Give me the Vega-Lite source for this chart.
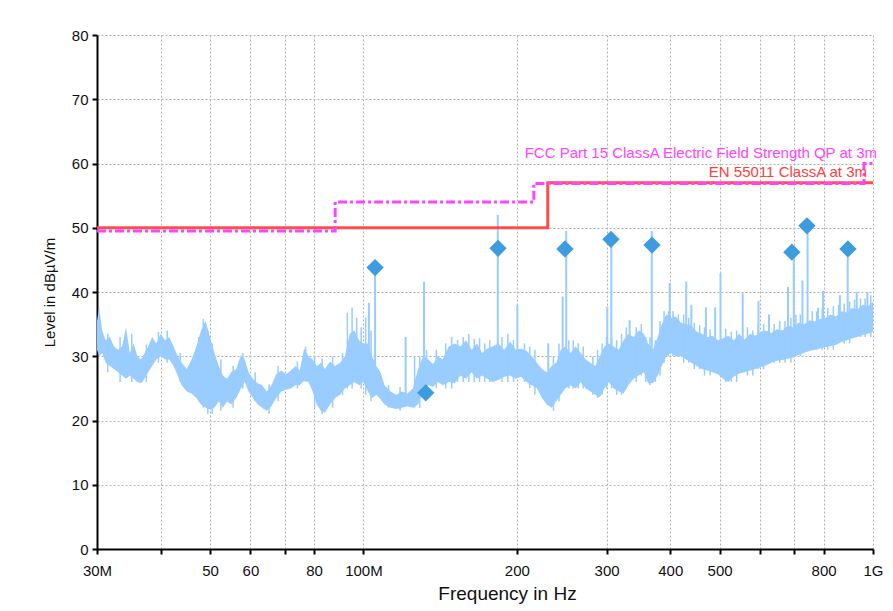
{
  "$schema": "https://vega.github.io/schema/vega-lite/v6.json",
  "width": 776,
  "height": 514,
  "autosize": {"type": "none"},
  "padding": {"left": 97, "top": 35, "right": 20, "bottom": 62},
  "background": "white",
  "config": {
    "view": {"stroke": null},
    "font": "Liberation Sans",
    "axis": {
      "labelFont": "Liberation Sans",
      "labelFontSize": 15,
      "labelColor": "#111",
      "labelFlush": false,
      "titleFont": "Liberation Sans",
      "titleColor": "#111",
      "titleFontWeight": "normal",
      "domainColor": "#000",
      "domainWidth": 2,
      "tickColor": "#000",
      "tickWidth": 2,
      "tickSize": 5,
      "gridColor": "#b0b0b0",
      "gridDash": [2, 2],
      "gridWidth": 1
    }
  },
  "datasets": {
    "trace": [
      {"f": 30, "lo": 31, "hi": 35.5}, {"f": 30.3, "lo": 30, "hi": 37.7}, {"f": 30.7, "lo": 30.5, "hi": 34},
      {"f": 31.2, "lo": 29, "hi": 32.5}, {"f": 31.8, "lo": 28.5, "hi": 33}, {"f": 32.4, "lo": 28, "hi": 31.5},
      {"f": 33, "lo": 27.5, "hi": 31}, {"f": 33.6, "lo": 27, "hi": 31.5}, {"f": 34.2, "lo": 26.5, "hi": 34.5},
      {"f": 34.8, "lo": 27, "hi": 30.5}, {"f": 35.4, "lo": 26.5, "hi": 32}, {"f": 36, "lo": 26, "hi": 30},
      {"f": 36.6, "lo": 25.8, "hi": 29.5}, {"f": 37.2, "lo": 26.5, "hi": 30.5}, {"f": 37.8, "lo": 27.5, "hi": 31.5},
      {"f": 38.5, "lo": 28.5, "hi": 33}, {"f": 39.2, "lo": 29.5, "hi": 32}, {"f": 40, "lo": 30, "hi": 33.5},
      {"f": 40.8, "lo": 29.5, "hi": 32.5}, {"f": 41.6, "lo": 29.5, "hi": 33}, {"f": 42.4, "lo": 28.5, "hi": 31.5},
      {"f": 43.2, "lo": 27, "hi": 30}, {"f": 44, "lo": 25.5, "hi": 29}, {"f": 45, "lo": 24.5, "hi": 28},
      {"f": 46, "lo": 24.2, "hi": 29.5}, {"f": 47, "lo": 23.5, "hi": 31.5}, {"f": 48, "lo": 22.5, "hi": 34},
      {"f": 49, "lo": 22, "hi": 35.5}, {"f": 50, "lo": 21.7, "hi": 33}, {"f": 51, "lo": 22, "hi": 30.5},
      {"f": 52, "lo": 23, "hi": 28.5}, {"f": 53, "lo": 22, "hi": 27}, {"f": 54, "lo": 23, "hi": 26.5},
      {"f": 55, "lo": 22.5, "hi": 27.5}, {"f": 56.3, "lo": 23.5, "hi": 28}, {"f": 57.5, "lo": 25, "hi": 30.2},
      {"f": 58.5, "lo": 26, "hi": 29.5}, {"f": 59.5, "lo": 24.5, "hi": 27.5}, {"f": 60.7, "lo": 23.5, "hi": 26.5},
      {"f": 62, "lo": 22.5, "hi": 25.8}, {"f": 63.3, "lo": 22, "hi": 25.5}, {"f": 64.6, "lo": 21.5, "hi": 24.5},
      {"f": 66, "lo": 22.2, "hi": 25.5}, {"f": 67.4, "lo": 23.5, "hi": 27.2}, {"f": 69, "lo": 24.5, "hi": 27.8},
      {"f": 70.5, "lo": 24.8, "hi": 27.2}, {"f": 72, "lo": 25, "hi": 27.8}, {"f": 73.5, "lo": 25.5, "hi": 28.5},
      {"f": 75, "lo": 25.5, "hi": 27.8}, {"f": 76.5, "lo": 26.2, "hi": 31.2}, {"f": 78, "lo": 26, "hi": 30},
      {"f": 79.5, "lo": 24.5, "hi": 29.5}, {"f": 81, "lo": 22.5, "hi": 28.5}, {"f": 82.5, "lo": 21.5, "hi": 29},
      {"f": 84, "lo": 21.2, "hi": 28}, {"f": 86, "lo": 22.5, "hi": 29.2}, {"f": 88, "lo": 23.5, "hi": 28.5},
      {"f": 90, "lo": 24, "hi": 29}, {"f": 92, "lo": 25, "hi": 30}, {"f": 94, "lo": 25.5, "hi": 33.5},
      {"f": 96, "lo": 26, "hi": 34}, {"f": 98, "lo": 25.5, "hi": 32.5}, {"f": 100, "lo": 26, "hi": 32},
      {"f": 102, "lo": 24.5, "hi": 32}, {"f": 104, "lo": 23.5, "hi": 30}, {"f": 106, "lo": 24, "hi": 28.5},
      {"f": 108, "lo": 23.3, "hi": 27.5}, {"f": 110, "lo": 22.5, "hi": 25.5}, {"f": 113, "lo": 22, "hi": 24.5},
      {"f": 116, "lo": 21.8, "hi": 24}, {"f": 119, "lo": 22, "hi": 24.5}, {"f": 122, "lo": 22.2, "hi": 24.2},
      {"f": 125, "lo": 22, "hi": 25}, {"f": 128, "lo": 22.5, "hi": 28}, {"f": 131, "lo": 24.5, "hi": 30},
      {"f": 134, "lo": 25.5, "hi": 29.5}, {"f": 137, "lo": 25.2, "hi": 28.8}, {"f": 140, "lo": 26, "hi": 30},
      {"f": 143, "lo": 25.5, "hi": 29.5}, {"f": 147, "lo": 26, "hi": 31.5}, {"f": 151, "lo": 25.8, "hi": 32},
      {"f": 155, "lo": 27, "hi": 31.5}, {"f": 159, "lo": 26.5, "hi": 32.5}, {"f": 163, "lo": 27.5, "hi": 31},
      {"f": 167, "lo": 26.5, "hi": 32}, {"f": 171, "lo": 27, "hi": 30.5}, {"f": 175, "lo": 26.5, "hi": 31.2},
      {"f": 179, "lo": 26, "hi": 31.5}, {"f": 184, "lo": 26.3, "hi": 32}, {"f": 189, "lo": 26.8, "hi": 31},
      {"f": 194, "lo": 27, "hi": 32.3}, {"f": 199, "lo": 26.5, "hi": 31}, {"f": 204, "lo": 26.8, "hi": 31.2},
      {"f": 209, "lo": 26, "hi": 30.8}, {"f": 214, "lo": 25.5, "hi": 30}, {"f": 219, "lo": 25, "hi": 29},
      {"f": 224, "lo": 23.5, "hi": 28}, {"f": 229, "lo": 22.5, "hi": 27.5}, {"f": 234, "lo": 22, "hi": 28.5},
      {"f": 239, "lo": 23, "hi": 29}, {"f": 244, "lo": 24, "hi": 31}, {"f": 249, "lo": 25, "hi": 31.5},
      {"f": 255, "lo": 25.5, "hi": 30.5}, {"f": 261, "lo": 25, "hi": 31.5}, {"f": 267, "lo": 26, "hi": 30.5},
      {"f": 273, "lo": 25, "hi": 29.5}, {"f": 279, "lo": 24.5, "hi": 29}, {"f": 285, "lo": 24, "hi": 28.5},
      {"f": 291, "lo": 23.6, "hi": 30}, {"f": 297, "lo": 25, "hi": 31.5}, {"f": 303, "lo": 26, "hi": 32},
      {"f": 310, "lo": 25, "hi": 31.5}, {"f": 317, "lo": 24.5, "hi": 31}, {"f": 324, "lo": 24.2, "hi": 32.5},
      {"f": 331, "lo": 25.5, "hi": 33.5}, {"f": 339, "lo": 26.5, "hi": 33}, {"f": 347, "lo": 27, "hi": 34},
      {"f": 355, "lo": 27.5, "hi": 33.5}, {"f": 362, "lo": 25.8, "hi": 32}, {"f": 370, "lo": 25.8, "hi": 31},
      {"f": 378, "lo": 27, "hi": 33}, {"f": 385, "lo": 28.5, "hi": 35}, {"f": 393, "lo": 30, "hi": 36.5},
      {"f": 401, "lo": 30.5, "hi": 36}, {"f": 410, "lo": 30, "hi": 36.2}, {"f": 420, "lo": 30, "hi": 35.2},
      {"f": 430, "lo": 29.5, "hi": 35}, {"f": 440, "lo": 29, "hi": 34.8}, {"f": 451, "lo": 28.5, "hi": 33.8},
      {"f": 462, "lo": 28, "hi": 33.5}, {"f": 473, "lo": 27.8, "hi": 33}, {"f": 484, "lo": 27.5, "hi": 33.2},
      {"f": 496, "lo": 27.2, "hi": 32.5}, {"f": 508, "lo": 26.5, "hi": 32.8}, {"f": 520, "lo": 26, "hi": 33.2},
      {"f": 533, "lo": 26.8, "hi": 32.5}, {"f": 546, "lo": 27.3, "hi": 33.5}, {"f": 560, "lo": 27.5, "hi": 32.6},
      {"f": 574, "lo": 27.8, "hi": 33.5}, {"f": 588, "lo": 28, "hi": 33.2}, {"f": 602, "lo": 28.3, "hi": 33.8},
      {"f": 617, "lo": 28.6, "hi": 34}, {"f": 632, "lo": 29, "hi": 33.6}, {"f": 648, "lo": 29.3, "hi": 34.2},
      {"f": 664, "lo": 29.4, "hi": 34}, {"f": 680, "lo": 29.6, "hi": 34.8}, {"f": 697, "lo": 29.8, "hi": 34.5},
      {"f": 714, "lo": 30.2, "hi": 35.2}, {"f": 732, "lo": 30.5, "hi": 35}, {"f": 750, "lo": 30.8, "hi": 35.6},
      {"f": 768, "lo": 31, "hi": 35.4}, {"f": 787, "lo": 31.2, "hi": 35.8}, {"f": 806, "lo": 31.4, "hi": 36},
      {"f": 826, "lo": 31.6, "hi": 36.5}, {"f": 846, "lo": 31.8, "hi": 36.2}, {"f": 867, "lo": 32.2, "hi": 37},
      {"f": 888, "lo": 32.5, "hi": 36.8}, {"f": 910, "lo": 32.8, "hi": 37.5}, {"f": 932, "lo": 33, "hi": 37.3},
      {"f": 955, "lo": 33.3, "hi": 38}, {"f": 978, "lo": 33.5, "hi": 37.8}, {"f": 1000, "lo": 33.8, "hi": 38.5}
    ],
    "spikes": [
      {"f": 102.5, "base": 28, "top": 38.3}, {"f": 105.4, "base": 26, "top": 43.8},
      {"f": 121, "base": 23, "top": 33}, {"f": 131.5, "base": 26, "top": 41.6},
      {"f": 183.5, "base": 28, "top": 52}, {"f": 200.5, "base": 28, "top": 38},
      {"f": 230.5, "base": 25, "top": 32}, {"f": 246, "base": 27, "top": 39.3},
      {"f": 250, "base": 27, "top": 49.5}, {"f": 301, "base": 28, "top": 37.7},
      {"f": 306.5, "base": 28, "top": 48.4}, {"f": 333, "base": 28, "top": 35.6},
      {"f": 368, "base": 28, "top": 49.5}, {"f": 399, "base": 32, "top": 41.4},
      {"f": 430, "base": 31, "top": 41.6}, {"f": 440, "base": 30, "top": 38},
      {"f": 470, "base": 30, "top": 37.6}, {"f": 490, "base": 30, "top": 37.6},
      {"f": 502, "base": 29, "top": 42.9}, {"f": 555, "base": 29, "top": 39.8},
      {"f": 596, "base": 30, "top": 38.6}, {"f": 625, "base": 30, "top": 36.5},
      {"f": 681, "base": 31, "top": 40.8}, {"f": 699, "base": 31, "top": 46.3},
      {"f": 727, "base": 32, "top": 41.8}, {"f": 744, "base": 32, "top": 50.4},
      {"f": 780, "base": 32, "top": 37.5}, {"f": 798, "base": 33, "top": 40.2},
      {"f": 861, "base": 33, "top": 39.5}, {"f": 892, "base": 34, "top": 45.5},
      {"f": 929, "base": 34, "top": 40}, {"f": 975, "base": 35, "top": 40}
    ],
    "minor": [
      {"f": 31.5, "lo": 27.5, "hi": 33.5}, {"f": 33.3, "lo": 26, "hi": 33}, {"f": 35.1, "lo": 26, "hi": 33.5},
      {"f": 37.5, "lo": 26, "hi": 31.8}, {"f": 39.6, "lo": 29, "hi": 33.8}, {"f": 41.2, "lo": 29, "hi": 34},
      {"f": 43.7, "lo": 26, "hi": 30.5}, {"f": 47.5, "lo": 23, "hi": 33}, {"f": 48.5, "lo": 22, "hi": 35.8},
      {"f": 49.5, "lo": 21, "hi": 34}, {"f": 50.5, "lo": 21, "hi": 32}, {"f": 52.5, "lo": 21.5, "hi": 29.5},
      {"f": 55.5, "lo": 22, "hi": 28.5}, {"f": 58, "lo": 25, "hi": 30.5}, {"f": 61.3, "lo": 23, "hi": 27.5},
      {"f": 65.3, "lo": 21, "hi": 25.6}, {"f": 68, "lo": 23, "hi": 28.5}, {"f": 74.2, "lo": 25, "hi": 29.2},
      {"f": 77, "lo": 26, "hi": 31.5}, {"f": 80.2, "lo": 22, "hi": 30}, {"f": 83, "lo": 21, "hi": 29.7},
      {"f": 87, "lo": 22, "hi": 30}, {"f": 91, "lo": 24, "hi": 30.5}, {"f": 93, "lo": 25, "hi": 36.8},
      {"f": 95, "lo": 25, "hi": 37.6}, {"f": 97, "lo": 26, "hi": 36}, {"f": 99, "lo": 25, "hi": 34.5},
      {"f": 101, "lo": 24, "hi": 36}, {"f": 103.5, "lo": 23, "hi": 34}, {"f": 112, "lo": 22, "hi": 25.5},
      {"f": 118, "lo": 21.5, "hi": 25.2}, {"f": 126, "lo": 22, "hi": 30}, {"f": 129, "lo": 22, "hi": 30},
      {"f": 133, "lo": 24, "hi": 31}, {"f": 139, "lo": 25, "hi": 31}, {"f": 145, "lo": 25, "hi": 32},
      {"f": 149, "lo": 25, "hi": 33}, {"f": 153, "lo": 26, "hi": 32.5}, {"f": 157, "lo": 26, "hi": 33},
      {"f": 161, "lo": 26, "hi": 33.5}, {"f": 165, "lo": 26, "hi": 32.7}, {"f": 169, "lo": 26, "hi": 32.8},
      {"f": 173, "lo": 26, "hi": 32}, {"f": 177, "lo": 26, "hi": 32.5}, {"f": 187, "lo": 26, "hi": 33},
      {"f": 192, "lo": 26, "hi": 33.5}, {"f": 197, "lo": 26, "hi": 32.5}, {"f": 207, "lo": 26, "hi": 32},
      {"f": 212, "lo": 25, "hi": 31.5}, {"f": 217, "lo": 24, "hi": 31}, {"f": 236, "lo": 21.5, "hi": 30},
      {"f": 242, "lo": 23, "hi": 32}, {"f": 253, "lo": 25, "hi": 32.5}, {"f": 258, "lo": 25, "hi": 32.5},
      {"f": 264, "lo": 25, "hi": 32}, {"f": 270, "lo": 25, "hi": 31.5}, {"f": 282, "lo": 24, "hi": 30},
      {"f": 288, "lo": 23.5, "hi": 31}, {"f": 294, "lo": 24, "hi": 32}, {"f": 300, "lo": 25, "hi": 33},
      {"f": 307, "lo": 25, "hi": 33}, {"f": 314, "lo": 24, "hi": 32.5}, {"f": 321, "lo": 24, "hi": 33.5},
      {"f": 328, "lo": 25, "hi": 34.5}, {"f": 343, "lo": 26, "hi": 34.5}, {"f": 351, "lo": 27, "hi": 35},
      {"f": 358, "lo": 26, "hi": 33}, {"f": 365, "lo": 25.5, "hi": 33}, {"f": 374, "lo": 26, "hi": 32.5},
      {"f": 382, "lo": 27, "hi": 35.5}, {"f": 389, "lo": 29, "hi": 37}, {"f": 397, "lo": 30, "hi": 37},
      {"f": 405, "lo": 30, "hi": 37}, {"f": 415, "lo": 30, "hi": 36.5}, {"f": 425, "lo": 29, "hi": 36.5},
      {"f": 435, "lo": 29, "hi": 36}, {"f": 446, "lo": 28, "hi": 35.2}, {"f": 457, "lo": 28, "hi": 34.8},
      {"f": 467, "lo": 27, "hi": 34.5}, {"f": 479, "lo": 27, "hi": 34.2}, {"f": 514, "lo": 26, "hi": 34.3},
      {"f": 527, "lo": 26, "hi": 33.8}, {"f": 540, "lo": 26, "hi": 34}, {"f": 567, "lo": 27, "hi": 34.5},
      {"f": 581, "lo": 27, "hi": 34}, {"f": 595, "lo": 28, "hi": 35}, {"f": 610, "lo": 28, "hi": 35},
      {"f": 640, "lo": 29, "hi": 35}, {"f": 656, "lo": 29, "hi": 35.5}, {"f": 672, "lo": 29, "hi": 35.5},
      {"f": 690, "lo": 29, "hi": 36}, {"f": 706, "lo": 30, "hi": 36.5}, {"f": 720, "lo": 30, "hi": 36.5},
      {"f": 760, "lo": 31, "hi": 37}, {"f": 775, "lo": 31, "hi": 37}, {"f": 795, "lo": 31, "hi": 37.5},
      {"f": 815, "lo": 31, "hi": 37.5}, {"f": 836, "lo": 31, "hi": 37.8}, {"f": 856, "lo": 32, "hi": 38},
      {"f": 878, "lo": 32, "hi": 38.2}, {"f": 900, "lo": 32, "hi": 38.5}, {"f": 920, "lo": 33, "hi": 38.8},
      {"f": 945, "lo": 33, "hi": 39}, {"f": 965, "lo": 33, "hi": 39}, {"f": 990, "lo": 33, "hi": 39.5}
    ],
    "en": [
      {"f": 30, "L": 50}, {"f": 230, "L": 57}, {"f": 1000, "L": 57}
    ],
    "fcc": [
      {"f": 30, "L": 49.5}, {"f": 88, "L": 54}, {"f": 216, "L": 56.9}, {"f": 960, "L": 60}, {"f": 1000, "L": 60}
    ],
    "markers": [
      {"f": 105.4, "L": 43.8}, {"f": 132.5, "L": 24.3}, {"f": 183.7, "L": 46.8},
      {"f": 248.6, "L": 46.7}, {"f": 306, "L": 48.2}, {"f": 368.4, "L": 47.3},
      {"f": 693, "L": 46.2}, {"f": 742, "L": 50.3}, {"f": 893, "L": 46.7}
    ]
  },
  "layer": [
    {
      "data": {"name": "trace"},
      "mark": {"type": "area", "color": "#99CCFF", "opacity": 1},
      "encoding": {
        "x": {
          "field": "f", "type": "quantitative",
          "scale": {"type": "log", "domain": [30, 1000], "nice": false},
          "axis": {
            "values": [30, 40, 50, 60, 70, 80, 100, 200, 300, 400, 500, 600, 700, 800, 1000],
            "labelExpr": "datum.value == 30 ? '30M' : datum.value == 100 ? '100M' : datum.value == 1000 ? '1G' : (datum.value == 40 || datum.value == 70 || datum.value == 600 || datum.value == 700) ? '' : datum.value",
            "title": "Frequency in Hz",
            "titleFontSize": 19,
            "titlePadding": 6,
            "titleX": 410,
            "labelPadding": 9,
            "grid": true
          }
        },
        "y": {
          "field": "hi", "type": "quantitative",
          "scale": {"domain": [0, 80], "nice": false},
          "axis": {
            "values": [0, 5, 10, 15, 20, 25, 30, 35, 40, 45, 50, 55, 60, 65, 70, 75, 80],
            "labelExpr": "datum.value % 10 == 0 ? datum.value : ''",
            "title": "Level in dBµV/m",
            "titleFontSize": 15,
            "titlePadding": 14,
            "labelPadding": 4,
            "grid": true
          }
        },
        "y2": {"field": "lo"}
      }
    },
    {
      "data": {"name": "minor"},
      "mark": {"type": "rule", "color": "#99CCFF", "strokeWidth": 1.5},
      "encoding": {
        "x": {"field": "f", "type": "quantitative"},
        "y": {"field": "lo", "type": "quantitative"},
        "y2": {"field": "hi"}
      }
    },
    {
      "data": {"name": "spikes"},
      "mark": {"type": "rule", "color": "#99CCFF", "strokeWidth": 2},
      "encoding": {
        "x": {"field": "f", "type": "quantitative"},
        "y": {"field": "base", "type": "quantitative"},
        "y2": {"field": "top"}
      }
    },
    {
      "data": {"name": "en"},
      "mark": {"type": "line", "color": "#FF4D4D", "strokeWidth": 3, "interpolate": "step-after"},
      "encoding": {
        "x": {"field": "f", "type": "quantitative"},
        "y": {"field": "L", "type": "quantitative"}
      }
    },
    {
      "data": {"name": "fcc"},
      "mark": {"type": "line", "color": "#FF44FF", "strokeWidth": 3, "interpolate": "step-after", "strokeDash": [9, 3, 3, 3]},
      "encoding": {
        "x": {"field": "f", "type": "quantitative"},
        "y": {"field": "L", "type": "quantitative"}
      }
    },
    {
      "data": {"name": "markers"},
      "mark": {"type": "point", "shape": "diamond", "filled": true, "color": "#3D9BE0", "opacity": 1, "size": 300},
      "encoding": {
        "x": {"field": "f", "type": "quantitative"},
        "y": {"field": "L", "type": "quantitative"}
      }
    },
    {
      "data": {"values": [{"f": 1000, "L": 61.6, "label": "FCC Part 15 ClassA Electric Field Strength QP at 3m"}]},
      "mark": {"type": "text", "align": "right", "baseline": "middle", "color": "#FF44FF", "fontSize": 15, "dx": 4, "font": "Liberation Sans"},
      "encoding": {
        "x": {"field": "f", "type": "quantitative"},
        "y": {"field": "L", "type": "quantitative"},
        "text": {"field": "label"}
      }
    },
    {
      "data": {"values": [{"f": 1000, "L": 58.7, "label": "EN 55011 ClassA at 3m"}]},
      "mark": {"type": "text", "align": "right", "baseline": "middle", "color": "#FF4040", "fontSize": 15, "dx": -6, "font": "Liberation Sans"},
      "encoding": {
        "x": {"field": "f", "type": "quantitative"},
        "y": {"field": "L", "type": "quantitative"},
        "text": {"field": "label"}
      }
    }
  ]
}
